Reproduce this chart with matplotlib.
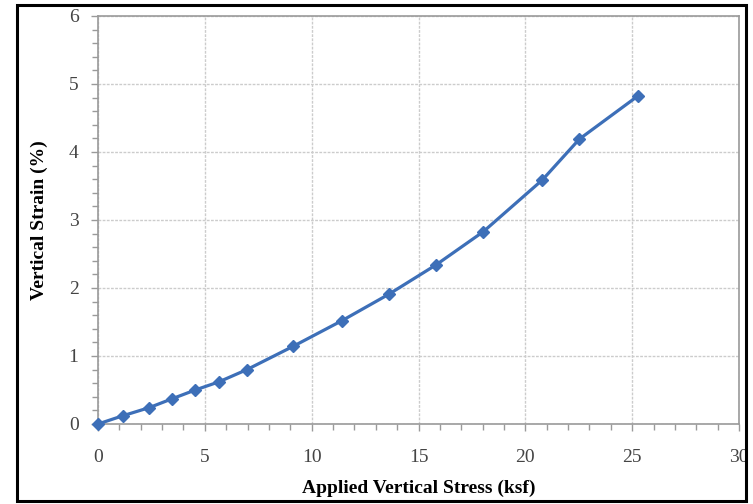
import numpy as np
import matplotlib.pyplot as plt
from matplotlib.ticker import MultipleLocator
from matplotlib.patches import Rectangle

# Данные
stress = [0.0, 1.15, 2.39, 3.46, 4.55, 5.66, 6.97, 9.12, 11.42, 13.62, 15.82, 18.04, 20.8, 22.53, 25.25]
strain = [0.0, 0.12, 0.24, 0.37, 0.50, 0.62, 0.80, 1.14, 1.52, 1.91, 2.34, 2.83, 3.59, 4.19, 4.82]

plt.rcParams['font.family'] = ['Liberation Serif', 'DejaVu Serif']

fig = plt.figure(figsize=(7.53, 5.04), dpi=100)
ax = fig.add_axes([98/753, 80/504, 641/753, 408/504])

blue = '#3d6fb8'
ax.plot(stress, strain, color=blue, lw=2.3, marker='D', ms=6, mfc=blue, mec=blue,
        clip_on=False, zorder=3)

ax.set_xlim(0, 30)
ax.set_ylim(0, 6)
ax.xaxis.set_major_locator(MultipleLocator(5))
ax.xaxis.set_minor_locator(MultipleLocator(1))
ax.yaxis.set_major_locator(MultipleLocator(1))
ax.yaxis.set_minor_locator(MultipleLocator(0.2))

ax.grid(True, which='major', color='#cccccc', lw=1.0, ls=(0, (2, 1)))
for s in ax.spines.values():
    s.set_color('#9a9a9a')
    s.set_linewidth(1.2)

ax.tick_params(which='both', colors='#9a9a9a', direction='out')
ax.tick_params(which='major', length=5, width=1)
ax.tick_params(which='minor', length=4, width=1)
ax.tick_params(axis='x', which='major', pad=13, labelsize=14, labelcolor='#444444')
ax.tick_params(axis='y', which='major', pad=9, labelsize=14, labelcolor='#444444')

ax.set_xlabel('Applied Vertical Stress (ksf)', fontsize=14, fontweight='bold', labelpad=10)
ax.set_ylabel('Vertical Strain (%)', fontsize=14, fontweight='bold', labelpad=15)

# Чёрная рамка вокруг всей картинки
fig.patches.append(Rectangle((17/753, 3/504), 729/753, 496/504, transform=fig.transFigure,
                             fill=False, ec='black', lw=2.2))

plt.savefig('out.png', dpi=100)
